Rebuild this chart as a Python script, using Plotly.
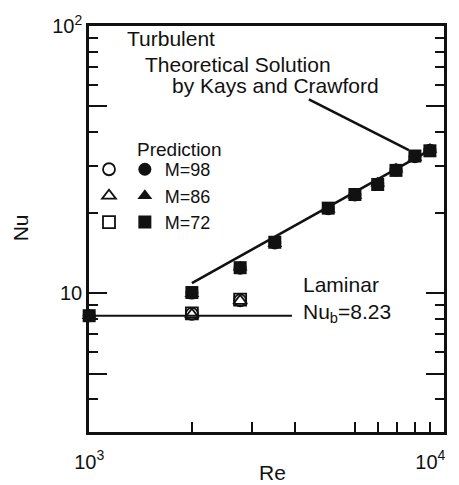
import plotly.graph_objects as go

# Reynolds numbers of the computed cases
re_turb = [1000, 2000, 2770, 3500, 5020, 6010, 7010, 7930, 9010, 9970]
re_lam = [2000, 2770]

# Nusselt numbers from the turbulent computations (filled symbols), per mesh
nu_turb_m98 = [8.23, 10.0, 12.4, 15.4, 20.7, 23.3, 25.6, 28.9, 32.4, 34.3]
nu_turb_m86 = [8.23, 9.95, 12.5, 15.3, 20.6, 23.2, 25.8, 29.1, 32.2, 34.5]
nu_turb_m72 = [8.23, 10.05, 12.45, 15.5, 20.8, 23.4, 25.5, 28.8, 32.6, 34.1]

# Nusselt numbers from the laminar computations (open symbols), per mesh
nu_lam_m98 = [8.36, 9.40]
nu_lam_m86 = [8.30, 9.35]
nu_lam_m72 = [8.40, 9.45]

mesh_labels = ["M=98", "M=86", "M=72"]
open_symbols = ["circle-open", "triangle-up-open", "square-open"]
filled_symbols = ["circle", "triangle-up", "square"]

# Kays and Crawford turbulent solution (end points of the drawn segment)
re_kc = [2000, 10000]
nu_kc = [10.9, 34.4]
# Fully developed laminar value Nu_b = 8.23
re_laminar = [1000, 3930]
nu_laminar = [8.23, 8.23]
# Leader from the caption to the turbulent solution
re_leader = [4405, 8650]
nu_leader = [53.1, 34.3]

# Axis ticks
x_tickvals = [1000, 10000]
x_ticktext = ["10<sup>3</sup>", "10<sup>4</sup>"]
x_minor_vals = [2000, 3000, 4000, 6000, 7000, 8000, 9000]
x_mid_vals = [5000]
y_tickvals = [5, 10, 50, 100]
y_ticktext = ["", "10", "", "10<sup>2</sup>"]
y_minor_vals = [3, 4, 6, 7, 8, 9, 20, 30, 40, 60, 70, 80, 90]

INK = "#111111"
FONT = "Liberation Sans, Arial, sans-serif"

fig = go.Figure()

# reference solutions
fig.add_trace(go.Scatter(x=re_laminar, y=nu_laminar, mode="lines",
                         line=dict(color=INK, width=2), showlegend=False,
                         hoverinfo="skip"))
fig.add_trace(go.Scatter(x=re_kc, y=nu_kc, mode="lines",
                         line=dict(color=INK, width=2.6), showlegend=False,
                         hoverinfo="skip"))
fig.add_trace(go.Scatter(x=re_leader, y=nu_leader, mode="lines",
                         line=dict(color=INK, width=2.6), showlegend=False,
                         hoverinfo="skip"))

lam_series = [nu_lam_m98, nu_lam_m86, nu_lam_m72]
turb_series = [nu_turb_m98, nu_turb_m86, nu_turb_m72]

for lab, sym, nu in zip(mesh_labels, open_symbols, lam_series):
    fig.add_trace(go.Scatter(
        x=re_lam, y=nu, mode="markers", name=" ", legend="legend",
        marker=dict(symbol=sym, size=12, color=INK, line=dict(width=1.8, color=INK)),
        cliponaxis=False))

for lab, sym, nu in zip(mesh_labels, filled_symbols, turb_series):
    fig.add_trace(go.Scatter(
        x=re_turb, y=nu, mode="markers", name=lab, legend="legend2",
        marker=dict(symbol=sym, size=13, color=INK, line=dict(width=0)),
        cliponaxis=False))

legend_common = dict(
    bgcolor="rgba(0,0,0,0)", borderwidth=0, xanchor="left", yanchor="top",
    font=dict(family=FONT, size=18, color=INK), itemclick=False,
)
fig.update_layout(
    legend=dict(x=0.0, y=0.692, **legend_common),
    legend2=dict(x=0.101, y=0.692, **legend_common),
)

fig.update_xaxes(
    type="log", range=[2.9995, 4.04],
    tickmode="array", tickvals=x_tickvals, ticktext=x_ticktext,
    ticks="inside", ticklen=10, tickwidth=2, tickcolor=INK,
    minor=dict(tickmode="array", tickvals=x_minor_vals, ticks="inside",
               ticklen=10, tickwidth=2, tickcolor=INK),
    showline=True, linewidth=2.5, linecolor=INK, mirror=True,
    showgrid=False, zeroline=False, ticklabelstandoff=10,
    tickfont=dict(family=FONT, size=20, color=INK),
)
fig.update_yaxes(
    type="log", range=[0.48, 2.0],
    tickmode="array", tickvals=y_tickvals, ticktext=y_ticktext,
    ticks="inside", ticklen=18, tickwidth=2, tickcolor=INK,
    minor=dict(tickmode="array", tickvals=y_minor_vals, ticks="inside",
               ticklen=9, tickwidth=2, tickcolor=INK),
    showline=True, linewidth=2.5, linecolor=INK, mirror="ticks",
    showgrid=False, zeroline=False, ticklabelstandoff=0,
    tickfont=dict(family=FONT, size=20, color=INK),
)

# longer tick at Re = 5000
fig.update_layout(xaxis2=dict(
    type="log", range=[2.9995, 4.04], overlaying="x", anchor="y", side="bottom",
    tickmode="array", tickvals=x_mid_vals, ticks="inside", ticklen=18,
    tickwidth=2, tickcolor=INK, showticklabels=False, showline=False,
    showgrid=False, zeroline=False,
))

def note(text, x, y, size=21, **kw):
    fig.add_annotation(text=text, x=x, y=y, xref="paper", yref="paper",
                       xanchor=kw.pop("xanchor", "left"), yanchor="middle",
                       showarrow=False,
                       font=dict(family=FONT, size=size, color=INK), **kw)

note("Turbulent", 0.1014, 0.9687)
note("Theoretical Solution", 0.1521, 0.906)
note("by Kays and Crawford", 0.2282, 0.853)
note("Prediction", 0.1296, 0.6964, size=19)
note("Laminar", 0.597, 0.363)
note("Nu<sub>b</sub>=8.23", 0.597, 0.293)
note("Re", 0.5155, -0.0988, xanchor="center")
note("Nu", -0.1944, 0.504, xanchor="center", textangle=-90)

fig.update_layout(
    width=459, height=485,
    margin=dict(l=89, r=15, t=18, b=52),
    paper_bgcolor="white", plot_bgcolor="white",
    font=dict(family=FONT, color=INK),
)

fig.write_html("out.html")
